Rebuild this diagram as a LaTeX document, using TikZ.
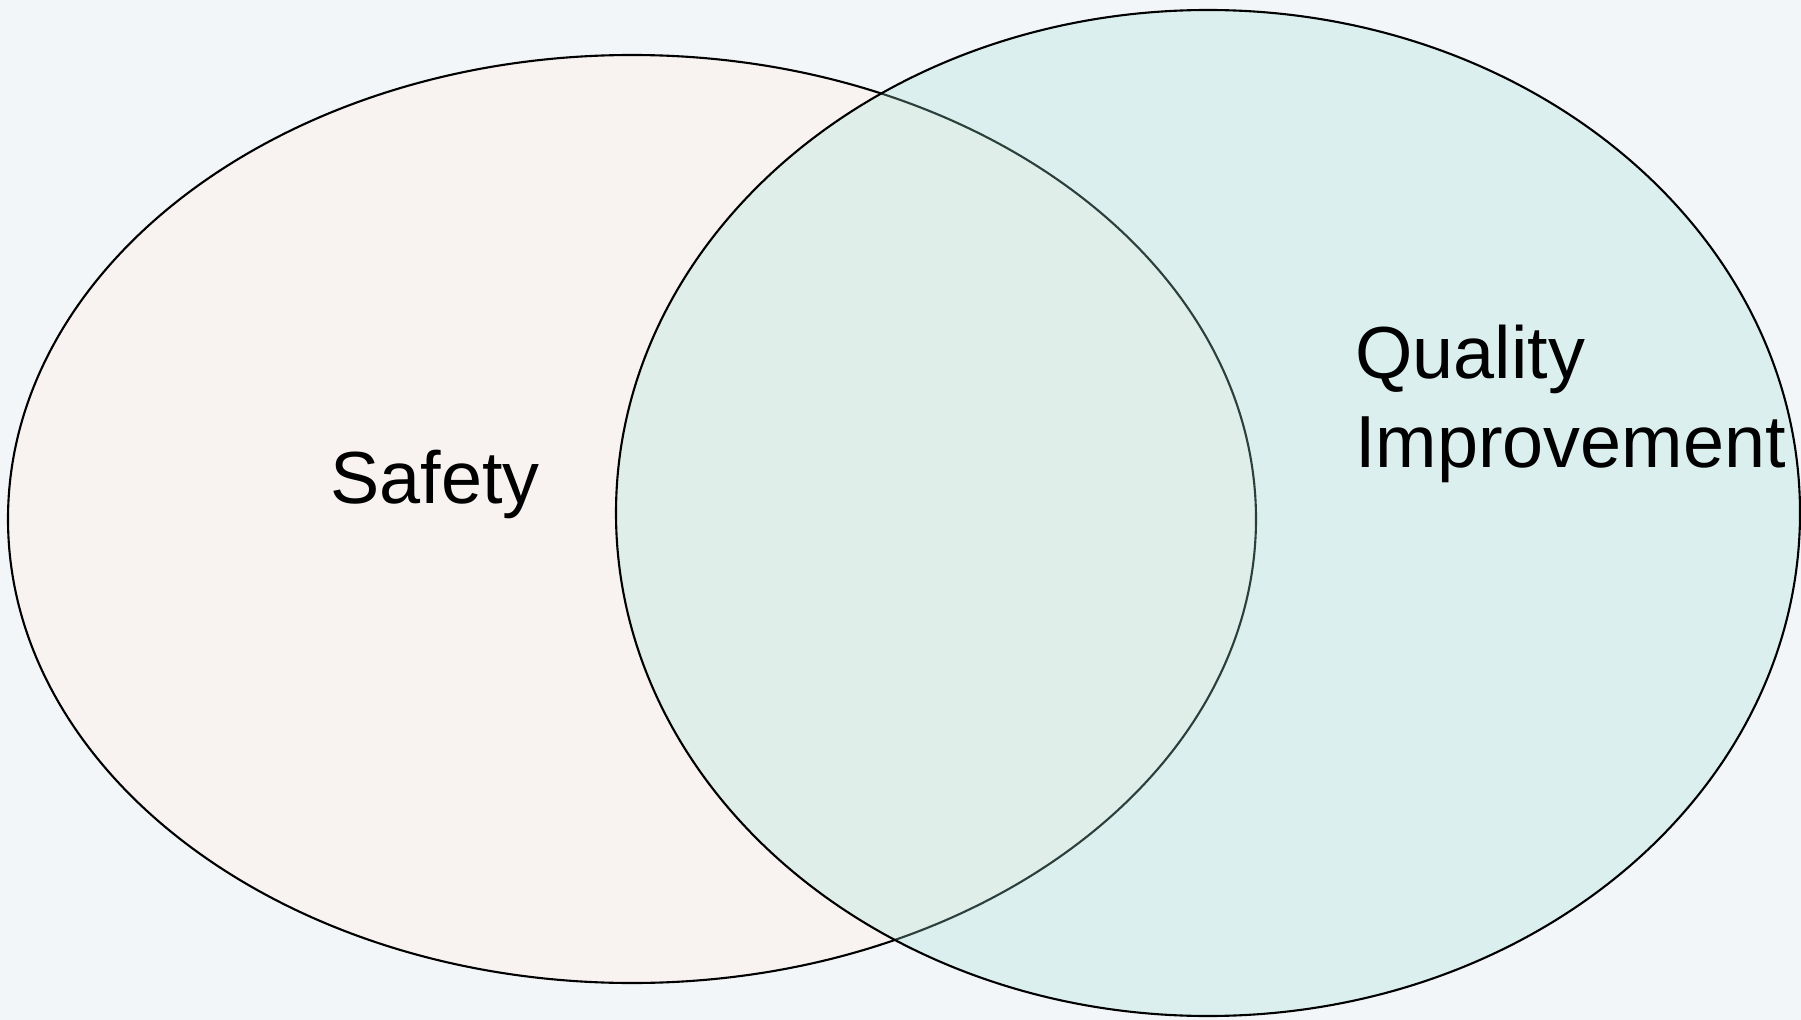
\documentclass[tikz,border=0pt]{standalone}
\usepackage{fontspec}
\setmainfont{Liberation Sans}
\definecolor{bgc}{RGB}{243,246,248}
\definecolor{leftc}{RGB}{248,242,240}
\definecolor{rightc}{RGB}{160,228,214}
\tikzset{
  venn/.style={draw=black, line width=1.2pt},
  lbl/.style={font=\fontsize{42}{50}\selectfont, text=black, inner sep=0pt}
}
\begin{document}
\begin{tikzpicture}[x=0.02cm, y=-0.02cm]
\fill[bgc] (0,0) rectangle (1801,1020);
\useasboundingbox (0,0) rectangle (1801,1020);
\filldraw[venn, fill=leftc] (632,519) ellipse [x radius=624, y radius=464];
\filldraw[venn, fill=rightc, fill opacity=0.28] (1208,513) ellipse [x radius=592, y radius=503];
\node[lbl, anchor=base west] (safety) at (330,503) {Safety};
\node[lbl, anchor=base west] (quality) at (1355,378) {Quality};
\node[lbl, anchor=base west] (improvement) at (1355,467) {Improvement};
\end{tikzpicture}
\end{document}
